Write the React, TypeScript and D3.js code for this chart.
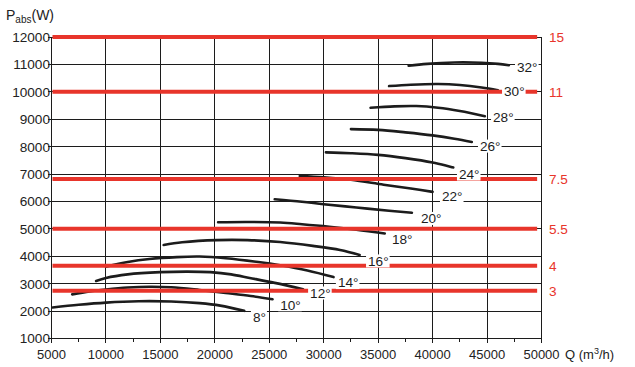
import React, { useRef, useEffect } from "react";
import * as d3 from "d3";

// Q (m3/h) ticks and P (W) ticks
const qTicks = [5000, 10000, 15000, 20000, 25000, 30000, 35000, 40000, 45000, 50000];
const qMinorTicks = [7500, 12500, 17500, 22500, 27500, 32500, 37500, 42500, 47500];
const pTicks = [1000, 2000, 3000, 4000, 5000, 6000, 7000, 8000, 9000, 10000, 11000, 12000];

// motor power lines (kW) with their level in W
const motorLabels = ["15", "11", "7.5", "5.5", "4", "3"];
const motorLevels = [12000, 10000, 6820, 5000, 3650, 2740];

// blade angle curves: [Q, P]
const angleNames = ["8°", "10°", "12°", "14°", "16°", "18°", "20°", "22°", "24°", "26°", "28°", "30°", "32°"];
const curve8 = [[5100, 2130], [7500, 2230], [10000, 2310], [13000, 2360], [16000, 2350], [18600, 2290], [20500, 2200], [22700, 2010]];
const curve10 = [[6900, 2610], [8500, 2720], [10000, 2790], [12000, 2860], [14000, 2890], [16000, 2870], [18600, 2770], [21000, 2660], [23300, 2550], [25300, 2430]];
const curve12 = [[9100, 3100], [10000, 3210], [12000, 3340], [15000, 3420], [17500, 3440], [19600, 3420], [21500, 3340], [23200, 3210], [25500, 3030], [28100, 2800]];
const curve14 = [[10000, 3620], [12000, 3790], [14000, 3900], [16500, 3970], [18600, 3990], [21000, 3930], [24000, 3790], [26000, 3670], [28500, 3480], [30900, 3240]];
const curve16 = [[15300, 4410], [17000, 4510], [20200, 4590], [23000, 4590], [26000, 4520], [29000, 4380], [31500, 4230], [33300, 4050]];
const curve18 = [[20300, 5240], [23000, 5250], [26000, 5230], [28000, 5170], [30500, 5080], [33000, 4970], [35600, 4830]];
const curve20 = [[25500, 6080], [28000, 5990], [30000, 5900], [33000, 5780], [36000, 5660], [38100, 5590]];
const curve22 = [[27800, 6930], [30000, 6880], [32500, 6790], [35500, 6610], [38000, 6470], [40000, 6350]];
const curve24 = [[30200, 7790], [32500, 7760], [35000, 7700], [37500, 7580], [40000, 7420], [41900, 7240]];
const curve26 = [[32500, 8640], [35000, 8610], [37500, 8520], [40000, 8410], [42000, 8290], [43600, 8170]];
const curve28 = [[34300, 9420], [36500, 9470], [38500, 9480], [40500, 9420], [42500, 9300], [44800, 9110]];
const curve30 = [[36000, 10210], [38000, 10260], [40500, 10285], [42500, 10250], [44500, 10160], [46000, 10060]];
const curve32 = [[37800, 10950], [39500, 11020], [42000, 11070], [44500, 11060], [46000, 11020], [47000, 10970]];
const curves = [curve8, curve10, curve12, curve14, curve16, curve18, curve20, curve22, curve24, curve26, curve28, curve30, curve32];

// where each angle label sits (left edge Q, centre P)
const labelAt = [
  [23500, 1790], [26000, 2230], [28750, 2660], [31300, 3040], [34070, 3830], [36270, 4630], [38930, 5380],
  [40860, 6200], [42420, 7000], [44350, 8020], [45550, 9080], [46560, 10010], [47750, 10900],
];

const RED = "#e8352b";
const INK = "#1c1c1c";
const FONT = "'Liberation Sans', Arial, sans-serif";
const FS = "13.6px";

export default function App() {
  const svgRef = useRef<SVGSVGElement>(null);

  useEffect(() => {
    if (!svgRef.current) return;
    const svg = d3.select(svgRef.current);
    svg.selectAll("*").remove();

    const width = 635;
    const height = 367;
    svg.attr("width", width).attr("height", height);

    const x = d3.scaleLinear().domain([5000, 50000]).range([51.5, 541.5]);
    const y = d3.scaleLinear().domain([1000, 12000]).range([338.5, 37]);

    // grid
    const grid = svg.append("g").attr("stroke", INK).attr("stroke-width", 1).attr("shape-rendering", "crispEdges");
    grid
      .selectAll(".hgrid")
      .data(pTicks)
      .enter()
      .append("line")
      .attr("x1", x(5000) - 4)
      .attr("x2", x(50000))
      .attr("y1", (d) => y(d))
      .attr("y2", (d) => y(d));
    grid
      .selectAll(".vgrid")
      .data(qTicks)
      .enter()
      .append("line")
      .attr("x1", (d) => x(d))
      .attr("x2", (d) => x(d))
      .attr("y1", y(12000))
      .attr("y2", y(1000) + 4);
    grid
      .selectAll(".minor")
      .data(qMinorTicks)
      .enter()
      .append("line")
      .attr("x1", (d) => x(d))
      .attr("x2", (d) => x(d))
      .attr("y1", y(1000))
      .attr("y2", y(1000) + 3);

    // curves
    const line = d3
      .line<number[]>()
      .x((d) => x(d[0]))
      .y((d) => y(d[1]))
      .curve(d3.curveCatmullRom.alpha(0.5));

    svg
      .append("g")
      .selectAll("path")
      .data(curves)
      .enter()
      .append("path")
      .attr("d", (d) => line(d))
      .attr("fill", "none")
      .attr("stroke", INK)
      .attr("stroke-width", 2.6)
      .attr("stroke-linecap", "round");

    // motor power lines
    svg
      .append("g")
      .selectAll("line")
      .data(motorLevels)
      .enter()
      .append("line")
      .attr("x1", x(5000) + 1)
      .attr("x2", x(49600))
      .attr("y1", (d) => y(d))
      .attr("y2", (d) => y(d))
      .attr("stroke", RED)
      .attr("stroke-width", 4);

    svg
      .append("g")
      .selectAll("text")
      .data(motorLevels)
      .enter()
      .append("text")
      .attr("x", 549)
      .attr("y", (d) => y(d))
      .attr("dy", "0.36em")
      .attr("fill", RED)
      .style("font", `${FS} ${FONT}`)
      .text((d, i) => motorLabels[i]);

    // angle labels with white boxes
    const labels = svg
      .append("g")
      .selectAll("g")
      .data(angleNames)
      .enter()
      .append("g")
      .attr("transform", (d, i) => `translate(${x(labelAt[i][0])},${y(labelAt[i][1])})`);
    labels
      .append("text")
      .attr("x", 0)
      .attr("y", 0)
      .attr("dy", "0.36em")
      .attr("fill", INK)
      .style("font", `${FS} ${FONT}`)
      .text((d) => d);
    labels.each(function () {
      const g = d3.select(this);
      const bb = (g.select("text").node() as SVGTextElement).getBBox();
      g.insert("rect", "text")
        .attr("x", bb.x - 2)
        .attr("y", -6.5)
        .attr("width", bb.width + 3)
        .attr("height", 13)
        .attr("fill", "white");
    });

    // axis labels
    svg
      .append("g")
      .selectAll("text")
      .data(pTicks)
      .enter()
      .append("text")
      .attr("x", 50)
      .attr("y", (d) => y(d))
      .attr("dy", "0.36em")
      .attr("text-anchor", "end")
      .attr("fill", "#222")
      .style("font", `${FS} ${FONT}`)
      .text((d) => d);

    svg
      .append("g")
      .selectAll("text")
      .data(qTicks)
      .enter()
      .append("text")
      .attr("x", (d) => x(d))
      .attr("y", 359)
      .attr("text-anchor", "middle")
      .attr("fill", "#222")
      .style("font", `13px ${FONT}`)
      .text((d) => d);

    const qTitle = svg
      .append("text")
      .attr("x", 565)
      .attr("y", 359)
      .attr("fill", "#222")
      .style("font", `13px ${FONT}`);
    qTitle.append("tspan").text("Q (m");
    qTitle.append("tspan").attr("dy", -5).style("font-size", "9px").text("3");
    qTitle.append("tspan").attr("dy", 5).text("/h)");

    const pTitle = svg
      .append("text")
      .attr("x", 6)
      .attr("y", 20)
      .attr("fill", "#222")
      .style("font", `14px ${FONT}`);
    pTitle.append("tspan").text("P");
    pTitle.append("tspan").attr("dy", 3).style("font-size", "10px").text("abs");
    pTitle.append("tspan").attr("dy", -3).text("(W)");
  }, []);

  return <svg ref={svgRef} style={{ position: "absolute", left: 0, top: 0 }}></svg>;
}
